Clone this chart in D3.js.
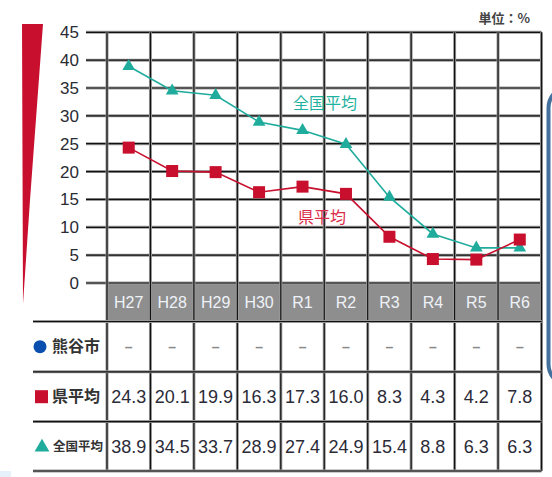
<!DOCTYPE html>
<html><head><meta charset="utf-8">
<script src="https://cdn.jsdelivr.net/npm/d3@7/dist/d3.min.js"></script>
<style>
html,body{margin:0;padding:0;background:#fff;}
svg{display:block;font-family:"Liberation Sans",Arial,sans-serif;}
</style></head>
<body>
<svg id="c" width="552" height="477"></svg>
<script>
const categories = ["H27","H28","H29","H30","R1","R2","R3","R4","R5","R6"];
const kumagaya = [null,null,null,null,null,null,null,null,null,null];
const prefAvg = [24.3,20.1,19.9,16.3,17.3,16.0,8.3,4.3,4.2,7.8];
const nationalAvg = [38.9,34.5,33.7,28.9,27.4,24.9,15.4,8.8,6.3,6.3];
const yTicks = [0,5,10,15,20,25,30,35,40,45];
const rowLabels = ["熊谷市","県平均","全国平均"];
const unitLabel = "単位：%";

(function(){
const svg = d3.select("#c");
const RED = "#c8102e", TEAL = "#1fac9c", BLUE = "#0a4fae";
const pLeft = 107, pRight = 541.5, pTop = 32.3, pBottom = 283;
const bandBottom = 321.5;
const rowsY = [321.5, 371.8, 421.6, 471];
const tableLeft = 33;

const x = d3.scaleBand().domain(categories).range([pLeft, pRight]);
const y = d3.scaleLinear().domain([0,45]).range([pBottom, pTop]);
const cx = d => x(d) + x.bandwidth()/2;

// decorative shapes
svg.append("path").attr("d","M22,24 L43,24 L30,200 L23,304 Z").attr("fill","#c8102e");
svg.append("rect").attr("x",548.5).attr("y",86).attr("width",60).attr("height",300).attr("rx",22)
  .attr("fill","none").attr("stroke","#44709e").attr("stroke-width",4);
svg.append("rect").attr("x",0).attr("y",471).attr("width",11).attr("height",6).attr("fill","#e6f0fa");

// gray band
svg.append("rect").attr("x",pLeft).attr("y",pBottom).attr("width",pRight-pLeft).attr("height",bandBottom-pBottom)
  .attr("fill","#8e8e8e");

function gline(x1,y1,x2,y2){
  svg.append("line").attr("x1",x1).attr("y1",y1).attr("x2",x2).attr("y2",y2)
    .attr("stroke","#9a9a9a").attr("stroke-width",3);
  svg.append("line").attr("x1",x1).attr("y1",y1).attr("x2",x2).attr("y2",y2)
    .attr("stroke","#111").attr("stroke-width",1.2);
}

yTicks.forEach(t => gline(86, y(t), pRight, y(t)));
const bounds = categories.map(c => x(c)).concat([pRight]);
bounds.forEach(b => gline(b, pTop, b, rowsY[3]));
gline(pLeft, bandBottom, pRight, bandBottom);
rowsY.forEach(r => gline(tableLeft, r, pRight, r));

const yAxis = d3.axisLeft(y).tickValues(yTicks).tickSize(0).tickPadding(0);
const ga = svg.append("g").attr("transform","translate(79,0)").call(yAxis);
ga.select(".domain").remove();
ga.selectAll("text").attr("font-size",17).attr("fill","#2b2b33")
  .attr("font-family","'Liberation Sans',Arial,sans-serif");

const xAxis = d3.axisBottom(x).tickSize(0).tickPadding(0);
const gx = svg.append("g").attr("transform",`translate(0,${(pBottom+bandBottom)/2 - 6})`).call(xAxis);
gx.select(".domain").remove();
gx.selectAll("text").attr("font-size",16).attr("fill","#eef2f8")
  .attr("font-family","'Liberation Sans',Arial,sans-serif");

const line = d3.line().x((d,i)=>cx(categories[i])).y(d=>y(d));
svg.append("path").datum(nationalAvg).attr("d",line).attr("fill","none").attr("stroke",TEAL).attr("stroke-width",1.6);
svg.append("path").datum(prefAvg).attr("d",line).attr("fill","none").attr("stroke",RED).attr("stroke-width",1.6);

const tri = d3.symbol().type(d3.symbolTriangle).size(70);
svg.selectAll(".tri").data(nationalAvg).enter().append("path")
  .attr("d",tri).attr("transform",(d,i)=>`translate(${cx(categories[i])},${y(d)})`).attr("fill",TEAL);
svg.selectAll(".sq").data(prefAvg).enter().append("rect")
  .attr("x",(d,i)=>cx(categories[i])-6).attr("y",d=>y(d)-6).attr("width",12).attr("height",12).attr("fill",RED);

svg.append("text").attr("x",325).attr("y",109).attr("text-anchor","middle").attr("font-size",16)
  .attr("font-family","'Noto Sans CJK JP',sans-serif").attr("fill","#1fb2a0").text(rowLabels[2]);
svg.append("text").attr("x",322).attr("y",223).attr("text-anchor","middle").attr("font-size",16)
  .attr("font-family","'Noto Sans CJK JP',sans-serif").attr("fill","#dc2c4a").text(rowLabels[1]);

svg.append("text").attr("x",530).attr("y",23).attr("text-anchor","end").attr("font-size",13).attr("font-weight","bold")
  .attr("font-family","'Noto Sans CJK JP',sans-serif").attr("fill","#444").text(unitLabel);

const rowMid = i => (rowsY[i]+rowsY[i+1])/2;
svg.append("circle").attr("cx",40).attr("cy",rowMid(0)).attr("r",6.5).attr("fill",BLUE);
svg.append("rect").attr("x",35).attr("y",rowMid(1)-6.5).attr("width",13).attr("height",13).attr("fill",RED);
svg.append("path").attr("d",d3.symbol().type(d3.symbolTriangle).size(95))
  .attr("transform",`translate(42,${rowMid(2)+1})`).attr("fill",TEAL);

const labSizes = [16,16,12.5];
rowLabels.forEach((t,i)=>{
  svg.append("text").attr("x",i===2?53:52).attr("y",rowMid(i)).attr("dy","0.36em")
    .attr("font-size",labSizes[i]).attr("font-weight","bold")
    .attr("font-family","'Noto Sans CJK JP',sans-serif").attr("fill","#333").text(t);
});

const rows = [kumagaya, prefAvg, nationalAvg];
rows.forEach((arr,ri)=>{
  svg.selectAll(".r"+ri).data(arr).enter().append("text")
    .attr("x",(d,i)=>cx(categories[i])).attr("y",rowMid(ri)).attr("dy","0.36em")
    .attr("text-anchor","middle")
    .attr("font-size", d => d===null ? 14 : 18)
    .attr("font-weight", d => d===null ? "bold" : "normal")
    .attr("fill", d => d===null ? "#888" : "#2b2b38")
    .text(d => d===null ? "–" : d.toFixed(1));
});
})();
</script>
</body></html>
